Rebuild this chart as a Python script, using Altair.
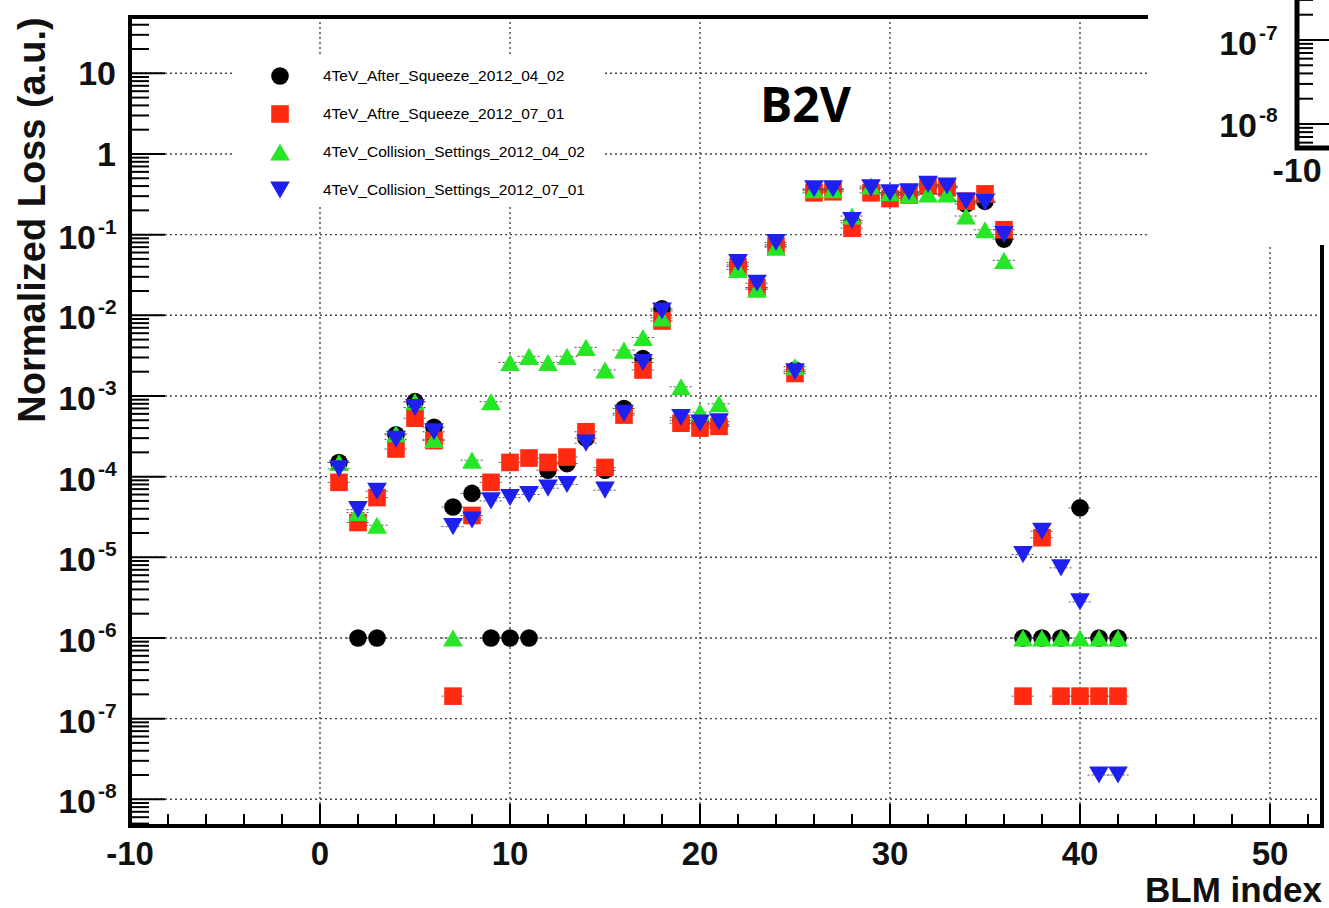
import math
import altair as alt
import pandas as pd

# ---------------- data ----------------
blm_index = list(range(1, 43))

after_squeeze_2012_04_02 = [
    1.5e-4, 1e-6, 1e-6, 3.3e-4, 8.5e-4, 4.1e-4, 4.2e-5, 6.2e-5, 1e-6, 1e-6,
    1e-6, 1.2e-4, 1.45e-4, 3.0e-4, 1.2e-4, 7e-4, 2.9e-3, 1.2e-2, 5e-4, 4.5e-4,
    4.4e-4, 4.2e-2, 2.2e-2, 7.5e-2, 2.1e-3, 0.35, 0.36, 0.14, 0.37, 0.31,
    0.33, 0.40, 0.39, 0.24, 0.26, 0.088, 1e-6, 1e-6, 1e-6, 4.1e-5, 1e-6, 1e-6]

aftre_squeeze_2012_07_01 = [
    8.5e-5, 2.7e-5, 5.5e-5, 2.2e-4, 5.3e-4, 2.8e-4, 1.9e-7, 3.3e-5, 8.5e-5, 1.5e-4,
    1.7e-4, 1.5e-4, 1.75e-4, 3.6e-4, 1.3e-4, 5.8e-4, 2.1e-3, 8.5e-3, 4.6e-4, 4.0e-4,
    4.2e-4, 4.0e-2, 2.2e-2, 7.2e-2, 1.9e-3, 0.33, 0.34, 0.12, 0.33, 0.28,
    0.31, 0.40, 0.38, 0.26, 0.32, 0.115, 1.9e-7, 1.75e-5, 1.9e-7, 1.9e-7, 1.9e-7, 1.9e-7]

collision_2012_04_02 = [
    1.5e-4, 3.6e-5, 2.5e-5, 3.4e-4, 8.5e-4, 2.9e-4, 1e-6, 1.6e-4, 8.5e-4, 2.6e-3,
    3.1e-3, 2.6e-3, 3.1e-3, 4.0e-3, 2.1e-3, 3.7e-3, 5.3e-3, 9.3e-3, 1.3e-3, 6.3e-4,
    8.0e-4, 3.7e-2, 2.1e-2, 7.0e-2, 2.3e-3, 0.36, 0.36, 0.17, 0.40, 0.33,
    0.31, 0.32, 0.32, 0.17, 0.115, 0.048, 1e-6, 1e-6, 1e-6, 1e-6, 1e-6, 1e-6]

collision_2012_07_01 = [
    1.25e-4, 3.9e-5, 6.6e-5, 2.9e-4, 7.2e-4, 3.6e-4, 2.4e-5, 2.9e-5, 5e-5, 5.5e-5,
    6e-5, 7.2e-5, 8e-5, 2.6e-4, 6.8e-5, 6.1e-4, 2.6e-3, 1.13e-2, 5.4e-4, 4.6e-4,
    4.8e-4, 4.5e-2, 2.5e-2, 8.0e-2, 2.0e-3, 0.37, 0.37, 0.15, 0.38, 0.33,
    0.34, 0.42, 0.40, 0.26, 0.25, 0.10, 1.08e-5, 2.1e-5, 7.4e-6, 2.8e-6, 2e-8, 2e-8]

series_names = [
    "4TeV_After_Squeeze_2012_04_02",
    "4TeV_Aftre_Squeeze_2012_07_01",
    "4TeV_Collision_Settings_2012_04_02",
    "4TeV_Collision_Settings_2012_07_01",
]
series_values = [after_squeeze_2012_04_02, aftre_squeeze_2012_07_01,
                 collision_2012_04_02, collision_2012_07_01]
series_colors = ["#000000", "#ff2a10", "#26e626", "#1f1ff0"]
series_shapes = ["circle", "square", "triangle-up", "triangle-down"]

x_tick_labels = [-10, 0, 10, 20, 30, 40, 50]
x_grid = [0, 10, 20, 30, 40, 50]
y_decades = list(range(-8, 2))

# ---------------- layout ----------------
W, H = 1192, 809
LEFT, TOP = 130, 17
X_MIN, X_MAX = -10.0, -10.0 + W / 19.0
LOG_MIN, LOG_MAX = -8.331, 1.698
FONT = "Liberation Sans"

xs = alt.Scale(domain=[X_MIN, X_MAX], nice=False, zero=False)
ys = alt.Scale(type="log", domain=[10 ** LOG_MIN, 10 ** LOG_MAX], nice=False)

dummy = pd.DataFrame({"a": [0]})
layers = []

# ---------------- dotted grid ----------------
layers.append(
    alt.Chart(pd.DataFrame({"idx": x_grid})).mark_rule(
        color="#444", strokeWidth=1.4, strokeDash=[2, 3]).encode(
        x=alt.X("idx:Q", scale=xs, axis=None), y=alt.value(0), y2=alt.value(H))
)
layers.append(
    alt.Chart(pd.DataFrame({"val": [10.0 ** d for d in y_decades]})).mark_rule(
        color="#444", strokeWidth=1.4, strokeDash=[2, 3]).encode(
        y=alt.Y("val:Q", scale=ys, axis=None), x=alt.value(0), x2=alt.value(W))
)

# ---------------- axis ticks (inside the frame, ROOT style) ----------------
ytick_major, ytick_minor = [], []
for d in range(-9, 2):
    for k in range(1, 10):
        v = k * 10.0 ** d
        if LOG_MIN <= math.log10(v) <= LOG_MAX:
            (ytick_major if k == 1 else ytick_minor).append(v)
for vals, length in ((ytick_major, 35), (ytick_minor, 19)):
    layers.append(
        alt.Chart(pd.DataFrame({"val": vals})).mark_rule(color="black", strokeWidth=2).encode(
            y=alt.Y("val:Q", scale=ys, axis=None),
            x=alt.value(0), x2=alt.value(length))
    )

xtick_major = [v for v in range(-10, 53, 10)]
xtick_minor = [v for v in range(-8, 53, 2) if v % 10 != 0]
for vals, length in ((xtick_major, 22), (xtick_minor, 12)):
    layers.append(
        alt.Chart(pd.DataFrame({"idx": vals})).mark_rule(color="black", strokeWidth=2).encode(
            x=alt.X("idx:Q", scale=xs, axis=None),
            y=alt.value(H), y2=alt.value(H - length))
    )

# ---------------- legend box (white, no border; hides the grid) ----------------
layers.append(alt.Chart(dummy).mark_rect(color="white").encode(
    x=alt.value(105), x2=alt.value(475), y=alt.value(40), y2=alt.value(190)))

# ---------------- data: error bars + markers ----------------
for name, vals, col, shp in zip(series_names, series_values, series_colors, series_shapes):
    df = pd.DataFrame({"idx": blm_index, "val": vals, "series": name})
    layers.append(
        alt.Chart(df).transform_calculate(lo="datum.idx - 0.6", hi="datum.idx + 0.6")
        .mark_rule(color="#555", strokeWidth=1, strokeDash=[2, 2]).encode(
            x=alt.X("lo:Q", scale=xs, axis=None), x2="hi:Q",
            y=alt.Y("val:Q", scale=ys, axis=None))
    )
    layers.append(
        alt.Chart(df).mark_point(filled=True, shape=shp,
                                 size=310 if shp in ("circle", "square") else 390,
                                 color=col, opacity=1, strokeWidth=0).encode(
            x=alt.X("idx:Q", scale=xs, axis=None),
            y=alt.Y("val:Q", scale=ys, axis=None),
            tooltip=["series:N", "idx:Q", "val:Q"])
    )

# ---------------- frame ----------------
layers.append(alt.Chart(dummy).mark_rule(color="black", strokeWidth=4).encode(
    x=alt.value(0), y=alt.value(-2), y2=alt.value(H + 2)))
layers.append(alt.Chart(dummy).mark_rule(color="black", strokeWidth=4).encode(
    y=alt.value(H), x=alt.value(-2), x2=alt.value(W + 2)))
layers.append(alt.Chart(dummy).mark_rule(color="black", strokeWidth=4).encode(
    y=alt.value(0), x=alt.value(-2), x2=alt.value(1018)))
layers.append(alt.Chart(dummy).mark_rule(color="black", strokeWidth=4).encode(
    x=alt.value(W), y=alt.value(228), y2=alt.value(H + 2)))

# ---------------- tick labels ----------------
xlab_df = pd.DataFrame({"idx": x_tick_labels, "lab": [str(v) for v in x_tick_labels]})
layers.append(alt.Chart(xlab_df).mark_text(
    font=FONT, fontSize=33, fontWeight="bold", color="#111", align="center",
    baseline="alphabetic").encode(
    x=alt.X("idx:Q", scale=xs, axis=None), y=alt.value(848), text="lab:N"))

plain = [d for d in y_decades if d >= 0]
expo = [d for d in y_decades if d < 0]
layers.append(alt.Chart(pd.DataFrame({"val": [10.0 ** d for d in plain],
                                      "lab": ["1" if d == 0 else "10" for d in plain]}))
              .mark_text(font=FONT, fontSize=34, fontWeight="bold", color="#111",
                         align="right", baseline="alphabetic", dy=12).encode(
    y=alt.Y("val:Q", scale=ys, axis=None), x=alt.value(-14), text="lab:N"))
exp_df = pd.DataFrame({"val": [10.0 ** d for d in expo], "base": ["10"] * len(expo),
                       "ex": [str(d) for d in expo]})
layers.append(alt.Chart(exp_df).mark_text(
    font=FONT, fontSize=34, fontWeight="bold", color="#111", align="right",
    baseline="alphabetic", dy=14).encode(
    y=alt.Y("val:Q", scale=ys, axis=None), x=alt.value(-34), text="base:N"))
layers.append(alt.Chart(exp_df).mark_text(
    font=FONT, fontSize=21, fontWeight="bold", color="#111", align="left",
    baseline="alphabetic", dy=-1).encode(
    y=alt.Y("val:Q", scale=ys, axis=None), x=alt.value(-32), text="ex:N"))

# ---------------- axis titles & label ----------------
layers.append(alt.Chart(dummy).mark_text(
    font=FONT, fontSize=35, fontWeight="bold", color="#111", align="right",
    baseline="alphabetic", text="BLM index").encode(x=alt.value(1192), y=alt.value(885)))
layers.append(alt.Chart(dummy).mark_text(
    font=FONT, fontSize=38, fontWeight="bold", color="#111", align="center",
    baseline="middle", angle=270, text="Normalized Loss (a.u.)").encode(
    x=alt.value(-96), y=alt.value(203)))
layers.append(alt.Chart(dummy).mark_text(
    font="Open Sans", fontSize=48, fontWeight="bold", color="#000", align="left",
    baseline="alphabetic", text="B2V").encode(x=alt.value(630), y=alt.value(105)))

# ---------------- legend ----------------
for i, (name, col, shp) in enumerate(zip(series_names, series_colors, series_shapes)):
    ypx = 59 + 38 * i
    layers.append(alt.Chart(dummy).mark_point(
        filled=True, shape=shp, size=310 if shp in ("circle", "square") else 390,
        color=col, opacity=1, strokeWidth=0).encode(x=alt.value(150), y=alt.value(ypx)))
    layers.append(alt.Chart(dummy).mark_text(
        font=FONT, fontSize=15.5, color="#000", align="left", baseline="middle",
        text=name).encode(x=alt.value(193), y=alt.value(ypx)))

# ---------------- clipped neighbouring panel (top-right corner) ----------------
layers.append(alt.Chart(dummy).mark_rect(color="white").encode(
    x=alt.value(1018), x2=alt.value(1199), y=alt.value(-17), y2=alt.value(228)))
layers.append(alt.Chart(dummy).mark_rule(color="black", strokeWidth=5).encode(
    x=alt.value(1167), y=alt.value(-17), y2=alt.value(133)))
layers.append(alt.Chart(dummy).mark_rule(color="black", strokeWidth=5).encode(
    y=alt.value(131), x=alt.value(1165), x2=alt.value(1199)))
inset_major = [23, 107]
inset_minor = [23 - 84 * math.log10(k) for k in (2, 3)] + \
              [107 - 84 * math.log10(k) for k in range(2, 10)] + \
              [107 + 84 * (1 - math.log10(k)) for k in (6, 7, 8, 9)]
layers.append(alt.Chart(pd.DataFrame({"py": inset_major})).mark_rule(color="black", strokeWidth=2)
              .encode(y=alt.Y("py:Q", scale=None), x=alt.value(1167), x2=alt.value(1199)))
layers.append(alt.Chart(pd.DataFrame({"py": inset_minor})).mark_rule(color="black", strokeWidth=2)
              .encode(y=alt.Y("py:Q", scale=None), x=alt.value(1167), x2=alt.value(1183)))
for base_y, ex in ((38, "-7"), (120, "-8")):
    layers.append(alt.Chart(dummy).mark_text(
        font=FONT, fontSize=34, fontWeight="bold", color="#111", align="right",
        baseline="alphabetic", text="10").encode(x=alt.value(1127), y=alt.value(base_y)))
    layers.append(alt.Chart(dummy).mark_text(
        font=FONT, fontSize=21, fontWeight="bold", color="#111", align="left",
        baseline="alphabetic", text=ex).encode(x=alt.value(1129), y=alt.value(base_y - 15)))
layers.append(alt.Chart(dummy).mark_text(
    font=FONT, fontSize=34, fontWeight="bold", color="#111", align="center",
    baseline="alphabetic", text="-10").encode(x=alt.value(1167), y=alt.value(165)))

chart = alt.layer(*layers).properties(
    width=W, height=H,
    padding={"left": LEFT, "top": TOP, "right": 7, "bottom": 82},
    autosize=alt.AutoSizeParams(type="none"),
    background="white",
).configure_view(stroke=None)

chart.save("out.html", embed_options={"renderer": "svg", "actions": False})
